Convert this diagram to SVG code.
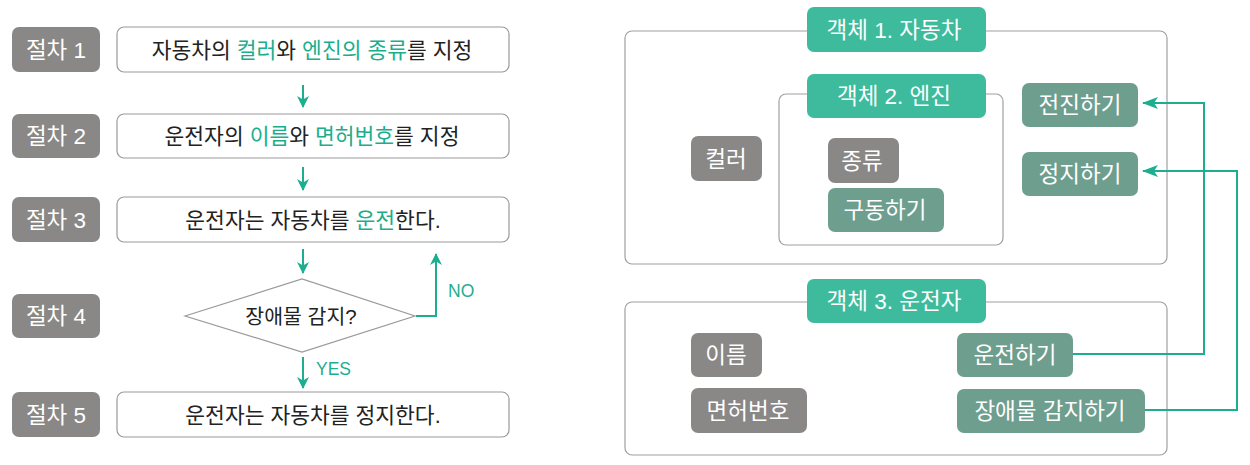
<svg xmlns="http://www.w3.org/2000/svg" width="1250" height="465" viewBox="0 0 1250 465">
<defs>
<style>
text{font-family:"Liberation Sans","Noto Sans CJK KR",sans-serif;text-anchor:middle}
.lbl{fill:#8a8787}
.lblt{fill:#fff;font-size:22.5px}
.step{fill:#fff;stroke:#9a9a9a;stroke-width:1.2}
.stept{fill:#222;font-size:21.5px}
.dt{fill:#222;font-size:20.5px}
.hl{fill:#1aae8c}
.frame{fill:#fff;stroke:#a0a0a0;stroke-width:1.2}
.title{fill:#3dbb9c}
.titlet{fill:#fff;font-size:22.5px}
.attr{fill:#8a8787}
.meth{fill:#6e9e8e}
.nodet{fill:#fff;font-size:22.5px}
.conn{fill:none;stroke:#1dae90;stroke-width:2}
.yn{fill:#1dae90;font-size:17.5px;text-anchor:start}
</style>
<marker id="ah" viewBox="0 0 12 12" refX="11" refY="6" markerWidth="12" markerHeight="12" markerUnits="userSpaceOnUse" orient="auto">
<path d="M0,0 L12,6 L0,12 L3.5,6 z" fill="#1dae90"/>
</marker>
<marker id="ah2" viewBox="0 0 16 12" refX="15" refY="6" markerWidth="16" markerHeight="12" markerUnits="userSpaceOnUse" orient="auto">
<path d="M0,0 L16,6 L0,12 L4,6 z" fill="#1dae90"/>
</marker>
</defs>
<rect width="1250" height="465" fill="#fff"/>

<g id="step1">
<rect class="lbl" x="12" y="27" width="88" height="45" rx="7"/>
<text class="lblt" x="56" y="57.5">절차 1</text>
<rect class="step" x="117" y="27" width="392" height="45" rx="7"/>
<text class="stept" x="312" y="57.5">자동차의 <tspan class="hl">컬러</tspan>와 <tspan class="hl">엔진의 종류</tspan>를 지정</text>
</g>
<g id="step2">
<rect class="lbl" x="12" y="114" width="88" height="44" rx="7"/>
<text class="lblt" x="56" y="144">절차 2</text>
<rect class="step" x="117" y="114" width="392" height="44" rx="7"/>
<text class="stept" x="312" y="143.5">운전자의 <tspan class="hl">이름</tspan>와 <tspan class="hl">면허번호</tspan>를 지정</text>
</g>
<g id="step3">
<rect class="lbl" x="12" y="197" width="88" height="45" rx="7"/>
<text class="lblt" x="56" y="227.5">절차 3</text>
<rect class="step" x="117" y="197" width="392" height="45" rx="7"/>
<text class="stept" x="313" y="227.5">운전자는 자동차를 <tspan class="hl">운전</tspan>한다.</text>
</g>
<g id="step4">
<rect class="lbl" x="12" y="294" width="88" height="44" rx="7"/>
<text class="lblt" x="56" y="324">절차 4</text>
<polygon points="185,316 302,279 415,316 302,352" fill="#fff" stroke="#9a9a9a" stroke-width="1.2"/>
<text class="dt" x="301" y="323.5">장애물 감지?</text>
</g>
<g id="step5">
<rect class="lbl" x="12" y="392" width="88" height="45" rx="7"/>
<text class="lblt" x="56" y="422.5">절차 5</text>
<rect class="step" x="117" y="392" width="392" height="45" rx="7"/>
<text class="stept" x="313" y="422.5">운전자는 자동차를 정지한다.</text>
</g>

<g id="obj1">
<rect class="frame" x="625" y="31" width="542" height="233" rx="7"/>
<rect class="title" x="807" y="7" width="179" height="45" rx="7"/>
<text class="titlet" x="894" y="37.5">객체 1. 자동차</text>
<g id="color"><rect class="attr" x="691" y="136" width="71" height="45" rx="7"/><text class="nodet" x="726" y="166.5">컬러</text></g>
<g id="forward"><rect class="meth" x="1022" y="83" width="116" height="44" rx="7"/><text class="nodet" x="1080" y="113">전진하기</text></g>
<g id="stop"><rect class="meth" x="1022" y="152" width="116" height="44" rx="7"/><text class="nodet" x="1080" y="182">정지하기</text></g>
</g>
<g id="obj2">
<rect class="frame" x="779" y="94" width="224" height="151" rx="7"/>
<rect class="title" x="807" y="74" width="179" height="44" rx="7"/>
<text class="titlet" x="894" y="104">객체 2. 엔진</text>
<g id="kind"><rect class="attr" x="828" y="138" width="71" height="45" rx="7"/><text class="nodet" x="862" y="168.5">종류</text></g>
<g id="drive-engine"><rect class="meth" x="828" y="188" width="116" height="44" rx="7"/><text class="nodet" x="885" y="218">구동하기</text></g>
</g>
<g id="obj3">
<rect class="frame" x="625" y="302" width="542" height="153" rx="7"/>
<rect class="title" x="807" y="279" width="179" height="44" rx="7"/>
<text class="titlet" x="894" y="309">객체 3. 운전자</text>
<g id="name"><rect class="attr" x="691" y="333" width="71" height="44" rx="7"/><text class="nodet" x="726" y="363">이름</text></g>
<g id="license"><rect class="attr" x="691" y="388" width="116" height="45" rx="7"/><text class="nodet" x="748" y="418.5">면허번호</text></g>
<g id="drive"><rect class="meth" x="957" y="333" width="116" height="44" rx="7"/><text class="nodet" x="1015" y="363">운전하기</text></g>
<g id="detect"><rect class="meth" x="957" y="389" width="188" height="44" rx="7"/><text class="nodet" x="1050" y="419">장애물 감지하기</text></g>
</g>

<g id="connectors">
<path class="conn" d="M303,85 V107" marker-end="url(#ah)"/>
<path class="conn" d="M303,167 V190" marker-end="url(#ah)"/>
<path class="conn" d="M303,249 V273" marker-end="url(#ah)"/>
<path class="conn" d="M303,357 V388" marker-end="url(#ah)"/>
<path class="conn" d="M416,316 H436 V254" marker-end="url(#ah)"/>
<text class="yn" x="448" y="297">NO</text>
<text class="yn" x="316" y="375">YES</text>
<path class="conn" d="M1073,354 H1204 V103 H1143" marker-end="url(#ah2)"/>
<path class="conn" d="M1145,410 H1237 V171 H1143" marker-end="url(#ah2)"/>
</g>
</svg>
